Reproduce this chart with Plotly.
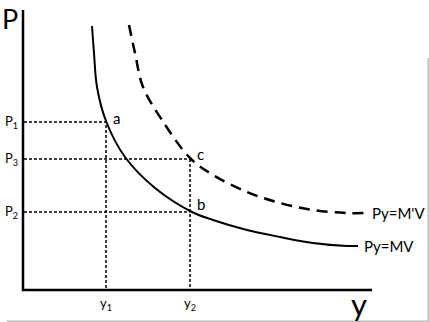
import plotly.graph_objects as go

# Data (chart units: origin at axis intersection)
mv_x = [68, 70, 73, 82, 101, 131, 168, 189, 223, 256, 289, 323, 334]
mv_y = [264, 237, 203, 169, 133, 102, 78, 70, 60, 53, 47, 44, 44]
mpv_x = [105, 111, 119, 138, 166, 189, 223, 256, 289, 323, 341]
mpv_y = [265, 237, 203, 170, 132, 115, 98, 87, 80, 77, 77]

y1, y2 = 82, 166
P1, P3, P2 = 168, 131, 78
tick_p = ["P<sub>1</sub>", "P<sub>3</sub>", "P<sub>2</sub>"]
tick_y = ["y<sub>1</sub>", "y<sub>2</sub>"]
curve_labels = ["Py=MV", "Py=M'V"]
point_labels = ["a", "b", "c"]

FONT = "Lato, Open Sans, sans-serif"
fig = go.Figure()

# dotted guide lines
dot = dict(color="black", width=1.5, dash="3px,2px")
fig.add_trace(go.Scatter(x=[0, y1, y1], y=[P1, P1, 0], mode="lines", line=dot, hoverinfo="skip"))
fig.add_trace(go.Scatter(x=[0, y2], y=[P3, P3], mode="lines", line=dot, hoverinfo="skip"))
fig.add_trace(go.Scatter(x=[0, y2], y=[P2, P2], mode="lines", line=dot, hoverinfo="skip"))
fig.add_trace(go.Scatter(x=[y2, y2], y=[P3, 0], mode="lines", line=dot, hoverinfo="skip"))

# curves
fig.add_trace(go.Scatter(x=mv_x, y=mv_y, mode="lines", line=dict(color="black", width=2, shape="spline", smoothing=1.0)))
fig.add_trace(go.Scatter(x=mpv_x, y=mpv_y, mode="lines", line=dict(color="black", width=2.5, dash="11px,7px", shape="spline", smoothing=1.0)))

# axes
fig.add_trace(go.Scatter(x=[-1, -1, 348], y=[280, 0, 0], mode="lines", line=dict(color="black", width=2.5)))

ann = []
for lab, yy in zip(tick_p, [P1, P3, P2]):
    ann.append(dict(x=-4, y=yy, text=lab, xanchor="right", yanchor="middle", font=dict(size=13)))
for lab, xx in zip(tick_y, [y1, y2]):
    ann.append(dict(x=xx, y=-3, text=lab, xanchor="center", yanchor="top", font=dict(size=13)))
ann.append(dict(x=mv_x[-1] + 4, y=mv_y[-1], text=curve_labels[0], xanchor="left", yanchor="middle", font=dict(size=15)))
ann.append(dict(x=mpv_x[-1] + 5, y=mpv_y[-1], text=curve_labels[1], xanchor="left", yanchor="middle", font=dict(size=15)))
ann.append(dict(x=y1 + 5, y=P1 + 4, text=point_labels[0], xanchor="left", yanchor="middle", font=dict(size=15)))
ann.append(dict(x=y2 + 5, y=P2 + 8, text=point_labels[1], xanchor="left", yanchor="middle", font=dict(size=15)))
ann.append(dict(x=y2 + 5, y=P3 + 5, text=point_labels[2], xanchor="left", yanchor="middle", font=dict(size=15)))
ann.append(dict(x=-14, y=272, text="P", xanchor="center", yanchor="middle", font=dict(size=27)))
ann.append(dict(x=335, y=-14, text="y", xanchor="center", yanchor="middle", font=dict(size=31)))
for a in ann:
    a.update(showarrow=False, xref="x", yref="y")
    a["font"].update(family=FONT, color="black")

shapes = [
    dict(type="line", xref="paper", yref="paper", x0=7/429, x1=1, y0=0.5/322, y1=0.5/322, line=dict(color="#bdbdbd", width=2)),
    dict(type="line", xref="paper", yref="paper", x0=1-0.5/429, x1=1-0.5/429, y0=0, y1=0.82, line=dict(color="#bdbdbd", width=2)),
]

fig.update_layout(
    width=429, height=322, margin=dict(l=0, r=0, t=0, b=0),
    paper_bgcolor="white", plot_bgcolor="white", showlegend=False,
    xaxis=dict(range=[-24, 405], visible=False, fixedrange=True),
    yaxis=dict(range=[-32, 290], visible=False, fixedrange=True),
    annotations=ann, shapes=shapes,
)
fig.write_html("out.html")
